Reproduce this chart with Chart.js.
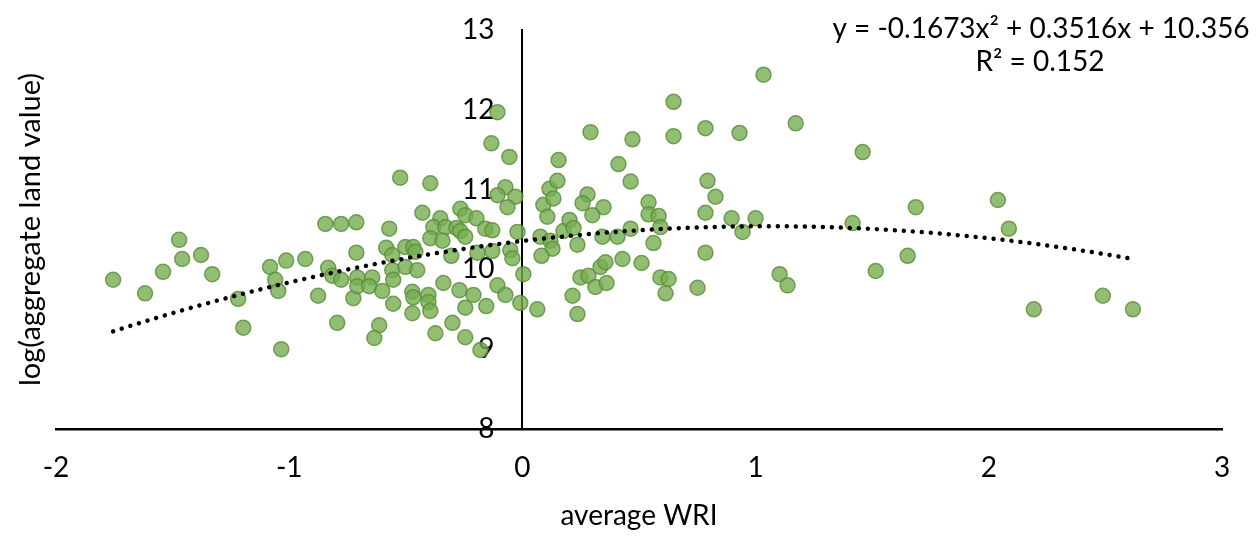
<!DOCTYPE html>
<html>
<head>
<meta charset="utf-8">
<title>average WRI vs log(aggregate land value)</title>
<script src="https://cdn.jsdelivr.net/npm/chart.js@4.4.1/dist/chart.umd.min.js"></script>
<style>
    html, body { margin: 0; padding: 0; background: #fff; }
    #wriChart { display: block; }
</style>
</head>
<body>
<canvas id="wriChart" width="1260" height="542"></canvas>
<script>
// --- Data ---
const wriValues = [
    -1.755, -1.618, -1.541, -1.472, -1.459, -1.378, -1.330, -1.219, -1.197, -1.082, -1.060, -1.047, -1.034, -1.013, -0.931,
    -0.876, -0.845, -0.777, -0.712, -0.833, -0.815, -0.777, -0.794, -0.725, -0.712, -0.708, -0.708, -0.644, -0.657, -0.601,
    -0.614, -0.635, -0.584, -0.571, -0.558, -0.558, -0.554, -0.554,
    -0.524, -0.395, -0.107, -0.133, -0.056, -0.073, -0.107, -0.030, -0.064, -0.429, -0.266, -0.245, -0.197, -0.352, -0.382,
    -0.330, -0.283, -0.266, -0.159, -0.129, -0.021, -0.395, -0.343, -0.245, -0.502, -0.468, -0.459, -0.305, -0.193, -0.129,
    -0.052, -0.043, -0.502, -0.451, -0.339, -0.472, -0.468, -0.403, -0.403, -0.395, -0.270, -0.210, -0.107, -0.073, -0.155,
    -0.245, -0.472, -0.300, -0.373, -0.245, -0.180,
    0.004, -0.009, 0.064, 0.077, 0.120, 0.129, 0.082, 0.090, 0.107, 0.116, 0.133, 0.150, 0.155, 0.176, 0.202, 0.219,
    0.236, 0.215, 0.236, 0.249, 0.283, 0.313, 0.361, 0.279, 0.258, 0.348, 0.300, 0.292, 0.343, 0.408, 0.464, 0.335,
    0.356, 0.429, 0.511, 0.412, 0.472, 0.464, 0.541, 0.541, 0.584, 0.592, 0.562, 0.592, 0.627, 0.614, 0.648, 0.648,
    0.751, 0.785, 0.794, 0.828, 0.785, 0.785, 0.897, 0.931, 0.944, 1.000, 1.034, 1.103, 1.137, 1.172, 1.416, 1.459,
    1.515, 1.652, 1.687, 2.039, 2.086, 2.193, 2.489, 2.618
];
const landValues = [
    9.87, 9.70, 9.97, 10.37, 10.13, 10.18, 9.94, 9.63, 9.27, 10.03, 9.87, 9.73, 9.00, 10.11, 10.13,
    9.67, 10.57, 10.57, 10.59, 10.02, 9.92, 9.87, 9.33, 9.64, 10.21, 9.90, 9.79, 9.90, 9.79, 9.73,
    9.30, 9.14, 10.27, 10.51, 10.18, 9.99, 9.87, 9.57,
    11.15, 11.08, 11.97, 11.58, 11.41, 11.03, 10.93, 10.91, 10.78, 10.71, 10.76, 10.68, 10.64, 10.64, 10.53,
    10.53, 10.52, 10.48, 10.51, 10.49, 10.47, 10.39, 10.36, 10.41, 10.28, 10.28, 10.22, 10.17, 10.21, 10.23,
    10.24, 10.14, 10.03, 9.99, 9.83, 9.72, 9.65, 9.68, 9.59, 9.48, 9.74, 9.68, 9.80, 9.68, 9.54,
    9.52, 9.45, 9.33, 9.20, 9.15, 8.99,
    9.94, 9.58, 9.50, 10.41, 10.36, 10.26, 10.17, 10.81, 10.66, 11.01, 10.89, 11.11, 11.37, 10.48, 10.62, 10.52,
    10.31, 9.67, 9.44, 9.90, 9.92, 9.78, 9.83, 10.94, 10.83, 10.78, 10.68, 11.72, 10.41, 10.41, 10.51, 10.03,
    10.09, 10.13, 10.08, 11.32, 11.63, 11.10, 10.84, 10.69, 10.67, 10.53, 10.33, 9.90, 9.88, 9.70, 12.10, 11.67,
    9.77, 11.77, 11.11, 10.91, 10.71, 10.21, 10.64, 11.71, 10.47, 10.64, 12.44, 9.94, 9.80, 11.83, 10.58, 11.47,
    9.98, 10.17, 10.78, 10.87, 10.51, 9.50, 9.67, 9.50
];

// Polynomial trendline as printed on the chart: y = a x^2 + b x + c
const trendCoef = [-0.1673, 0.3516, 10.356];
const trendLabel = ['y = -0.1673x² + 0.3516x + 10.356', 'R² = 0.152'];

// Axis ranges
const xRange = [-2, 3];
const yRange = [8, 13];

// --- Build datasets ---
const scatterPoints = wriValues.map((x, i) => ({ x: x, y: landValues[i] }));

const xMin = Math.min(...wriValues);
const xMax = Math.max(...wriValues);
const trendPoints = [];
for (let i = 0; i <= 80; i++) {
    const x = xMin + (xMax - xMin) * i / 80;
    trendPoints.push({ x: x, y: trendCoef[0] * x * x + trendCoef[1] * x + trendCoef[2] });
}

const FONT = "Lato, 'Open Sans', sans-serif";

// Equation text and the y title sit outside the scales' own layout
const annotations = {
    id: 'annotations',
    afterDraw(chart) {
        const ctx = chart.ctx;
        ctx.save();
        ctx.fillStyle = '#000';
        ctx.font = '28px ' + FONT;
        ctx.textAlign = 'center';
        ctx.textBaseline = 'middle';
        ctx.fillText(trendLabel[0], 1041, 29);
        ctx.fillText(trendLabel[1], 1040, 62);

        // y axis title, far left
        const mid = (chart.chartArea.top + chart.chartArea.bottom) / 2;
        ctx.translate(31, mid);
        ctx.rotate(-Math.PI / 2);
        ctx.font = '29px ' + FONT;
        ctx.fillText('log(aggregate land value)', 0, 0);
        ctx.restore();
    }
};

const ctx = document.getElementById('wriChart').getContext('2d');
new Chart(ctx, {
    type: 'scatter',
    data: {
        datasets: [
            {
                type: 'line',
                label: 'Poly. trend',
                data: trendPoints,
                order: 0,
                borderColor: '#000',
                borderWidth: 4.5,
                borderDash: [0.01, 9],
                borderCapStyle: 'round',
                pointRadius: 0,
                fill: false,
                tension: 0
            },
            {
                label: 'log(aggregate land value)',
                data: scatterPoints,
                order: 1,
                pointRadius: 7.5,
                pointBackgroundColor: 'rgba(118, 174, 80, 0.8)',
                pointBorderColor: 'rgba(90, 140, 58, 0.8)',
                pointBorderWidth: 1.5
            }
        ]
    },
    options: {
        responsive: false,
        animation: false,
        layout: { padding: { left: 56, right: 38, top: 30, bottom: 0 } },
        plugins: {
            legend: { display: false },
            tooltip: { enabled: false }
        },
        scales: {
            x: {
                type: 'linear',
                min: xRange[0],
                max: xRange[1],
                grid: { display: false },
                border: { color: '#000', width: 2.5 },
                ticks: { stepSize: 1, color: '#000', padding: 14, font: { family: FONT, size: 28 } },
                title: {
                    display: true,
                    text: 'average WRI',
                    color: '#000',
                    font: { family: FONT, size: 28 },
                    padding: { top: 0, bottom: 9 }
                },
                afterFit: function (scale) { scale.height = 113; }
            },
            y: {
                type: 'linear',
                min: yRange[0],
                max: yRange[1],
                position: { x: 0 },
                grid: { display: false },
                border: { color: '#000', width: 2 },
                ticks: {
                    stepSize: 1,
                    color: '#000',
                    font: { family: FONT, size: 28 },
                    // labels sit well clear of the crossing axis
                    callback: function (value) { return value + '\u2002\u2002'; }
                }
            }
        }
    },
    plugins: [annotations]
});
</script>
</body>
</html>
